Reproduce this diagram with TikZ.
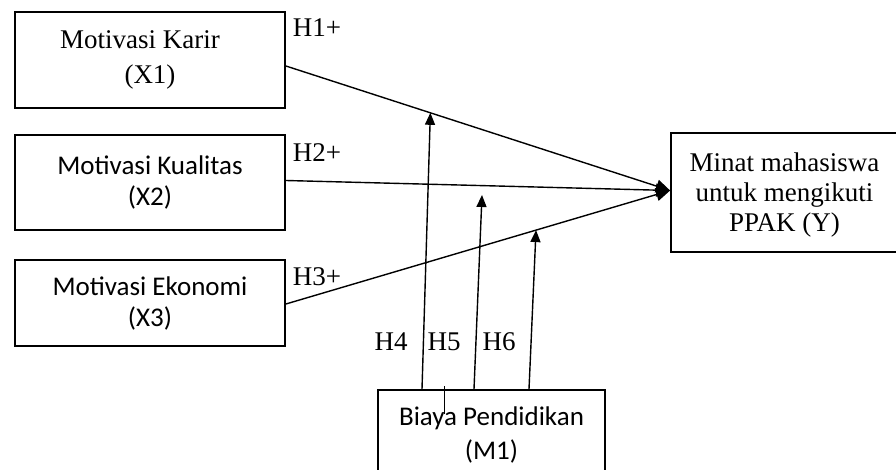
\documentclass[tikz,border=0pt]{standalone}
\usepackage{fontspec}
\setmainfont{Liberation Serif}
\newfontfamily\calfont{Carlito}
\usetikzlibrary{arrows.meta,calc}
\begin{document}
\begin{tikzpicture}[x=1pt,y=-1pt,
  box/.style={draw,line width=1.8pt,rectangle,inner sep=0pt,align=center},
  serifbox/.style={box,font=\fontsize{27}{35}\selectfont},
  sansbox/.style={box,font=\calfont\fontsize{27}{31}\selectfont},
  link/.style={line width=1.4pt},
  tip/.style={-{Triangle[length=12pt,width=10pt]}},
  hlab/.style={font=\fontsize{27}{30}\selectfont,inner sep=0pt}]
\useasboundingbox (0,0) rectangle (896,470);
\clip (0,0) rectangle (896,470);
\node[serifbox,minimum width=270pt,minimum height=96pt] (x1) at (150,60) {Motivasi Karir\hspace*{20pt}\\(X1)};
\node[sansbox,minimum width=270pt,minimum height=95pt] (x2) at (150,182.5) {Motivasi Kualitas\\(X2)};
\node[sansbox,minimum width=270pt,minimum height=86pt] (x3) at (150,303) {Motivasi Ekonomi\\(X3)};
\node[box,minimum width=227pt,minimum height=119pt] (y) at (784.5,192.5) {};
\node[font=\fontsize{27}{30}\selectfont,align=center,inner sep=0pt] (yt) at ($(y.center)+(0,3)$) {Minat mahasiswa\\untuk mengikuti\\PPAK (Y)};
\node[sansbox,font=\calfont\fontsize{27}{34}\selectfont,minimum width=227pt,minimum height=90pt] (m) at (491.5,435) {Biaya Pendidikan\\(M1)};
\coordinate (s1) at ($(x1.east)+(0,6)$);
\coordinate (s2) at ($(x2.east)+(0,-2)$);
\coordinate (s3) at ($(x3.east)+(0,1)$);
\coordinate (e) at ($(y.west)+(0,-2)$);
\draw[link,-{Triangle[length=14pt,width=13pt]}] (s1) -- (e);
\draw[link,-{Triangle[length=14pt,width=13pt]}] (s2) -- (e);
\draw[link,-{Triangle[length=14pt,width=13pt]}] (s3) -- (e);
\path (s1) -- (e) coordinate[pos=0.376] (p1);
\path (s3) -- (e) coordinate[pos=0.651] (p3);
\coordinate (p2) at (482,195);
\coordinate (b4) at ($(m.north)+(-69.5,0)$);
\coordinate (b5) at ($(m.north)+(-17.5,0)$);
\coordinate (b6) at ($(m.north)+(37.5,0)$);
\draw[link,tip] (b4) -- (p1);
\draw[link,tip] (b5) -- (p2);
\draw[link,tip] (b6) -- (p3);
\draw[line width=1pt] ($(m.north)+(-47.5,-3)$) -- ($(m.north)+(-47.5,25)$);
\node[hlab] (h1) at (317,28) {H1+};
\node[hlab] (h2) at (317,153) {H2+};
\node[hlab] (h3) at (317,277) {H3+};
\node[hlab] (h4) at (391,342) {H4};
\node[hlab] (h5) at (444,342) {H5};
\node[hlab] (h6) at (499,342) {H6};
\end{tikzpicture}
\end{document}
